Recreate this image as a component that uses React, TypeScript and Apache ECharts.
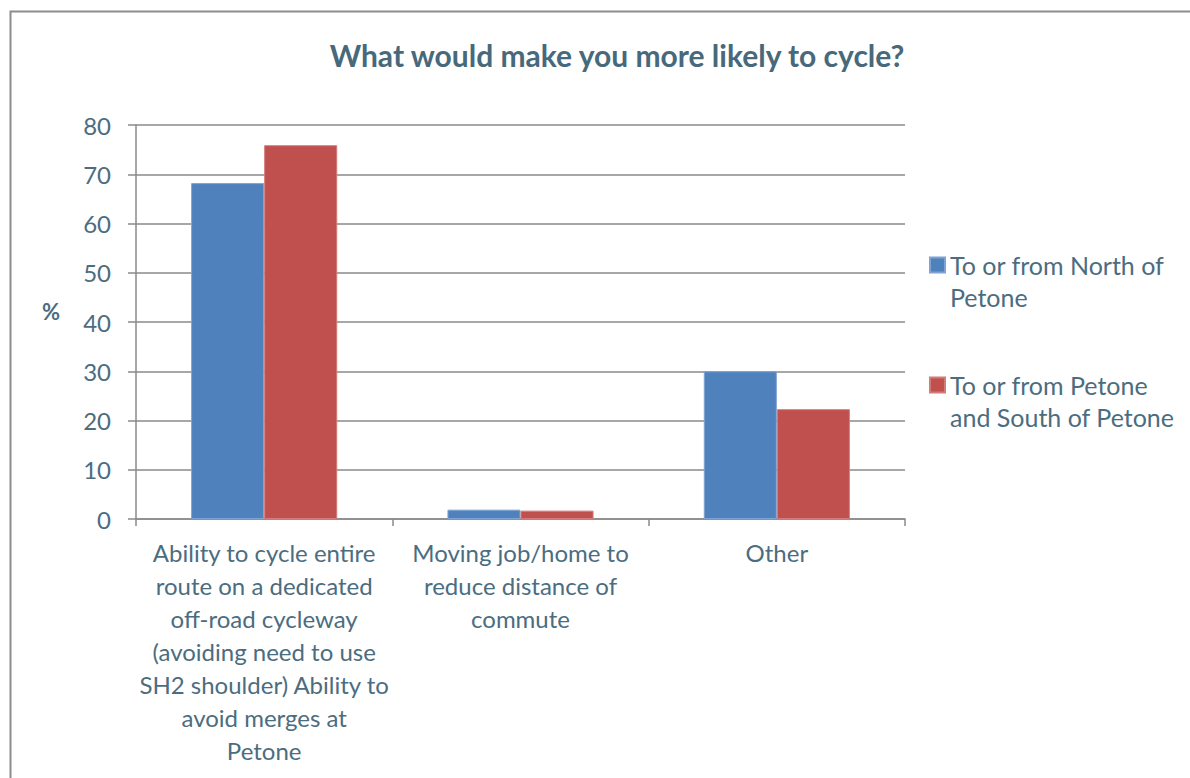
import { useEffect, useRef } from 'react';
import * as echarts from 'echarts';

// Survey categories (line breaks follow the printed wrapping of each label)
const categories = [
  'Ability to cycle entire\nroute on a dedicated\noff-road cycleway\n(avoiding need to use\nSH2 shoulder) Ability to\navoid merges at\nPetone',
  'Moving job/home to\nreduce distance of\ncommute',
  'Other',
];

const seriesNames = ['To or from North of Petone', 'To or from Petone and South of Petone'];
// Leading blank line keeps the first text line level with the legend swatch
const legendLabels = ['\nTo or from North of\nPetone', '\nTo or from Petone\nand South of Petone'];

// Percent of respondents
const northValues = [68.2, 1.9, 30.0];
const southValues = [75.9, 1.7, 22.3];

const yMin = 0;
const yMax = 80;
const yStep = 10;

const TEXT = '#4B6D7F';
const TITLE = '#47697B';
const GRID = '#8a8a8a';
const FONT = 'Lato, "Open Sans", sans-serif';

export default function App() {
  const ref = useRef<HTMLDivElement>(null);

  useEffect(() => {
    if (!ref.current) return;
    const chart = echarts.init(ref.current, undefined, { renderer: 'svg' });
    chart.setOption({
      animation: false,
      backgroundColor: '#ffffff',
      textStyle: { fontFamily: FONT },
      title: {
        text: 'What would make you more likely to cycle?',
        left: 617,
        top: 55,
        padding: 0,
        textAlign: 'center',
        textVerticalAlign: 'middle',
        textStyle: { color: TITLE, fontSize: 30, fontWeight: 'bold', fontFamily: FONT },
      },
      graphic: [
        {
          type: 'rect',
          left: 8,
          top: 9,
          shape: { x: 0, y: 0, width: 1300, height: 900 },
          style: { fill: 'none', stroke: '#8c8c8c', lineWidth: 2 },
          silent: true,
          z: -1,
        },
      ],
      legend: {
        orient: 'vertical',
        left: 929,
        top: 217,
        padding: 0,
        itemWidth: 15,
        itemHeight: 15,
        itemGap: 24,
        icon: 'rect',
        data: seriesNames,
        formatter: (name: string) => legendLabels[seriesNames.indexOf(name)],
        textStyle: {
          color: TEXT,
          fontSize: 25,
          lineHeight: 32,
          fontFamily: FONT,
        },
      },
      grid: { left: 136, right: 285, top: 125, bottom: 259, containLabel: false },
      xAxis: {
        type: 'category',
        data: categories,
        axisLine: { lineStyle: { color: GRID, width: 1.5 } },
        axisTick: { show: true, length: 7, lineStyle: { color: GRID, width: 1.5 } },
        axisLabel: {
          color: TEXT,
          fontSize: 24,
          lineHeight: 33,
          margin: 17,
          interval: 0,
          align: 'center',
          fontFamily: FONT,
        },
      },
      yAxis: {
        type: 'value',
        min: yMin,
        max: yMax,
        interval: yStep,
        name: '%',
        nameLocation: 'middle',
        nameRotate: 0,
        nameGap: 85,
        nameTextStyle: {
          color: TEXT,
          fontSize: 22,
          fontWeight: 'bold',
          fontFamily: FONT,
          align: 'center',
          verticalAlign: 'bottom',
        },
        axisLine: { show: true, lineStyle: { color: GRID, width: 1.5 } },
        axisTick: { show: true, length: 8, lineStyle: { color: GRID, width: 1.5 } },
        splitLine: { lineStyle: { color: GRID, width: 1.5 } },
        axisLabel: { color: TEXT, fontSize: 24, margin: 25, fontFamily: FONT },
      },
      series: [
        {
          name: seriesNames[0],
          type: 'bar',
          data: northValues,
          barGap: '0%',
          barCategoryGap: '43%',
          itemStyle: { color: '#4F81BD', borderColor: '#7FA3D3', borderWidth: 1 },
        },
        {
          name: seriesNames[1],
          type: 'bar',
          data: southValues,
          barGap: '0%',
          barCategoryGap: '43%',
          itemStyle: { color: '#C0504D', borderColor: '#D27C79', borderWidth: 1 },
        },
      ],
    });
    return () => chart.dispose();
  }, []);

  return (
    <div
      ref={ref}
      style={{ position: 'fixed', left: 0, top: 0, width: 1190, height: 778 }}
    />
  );
}
